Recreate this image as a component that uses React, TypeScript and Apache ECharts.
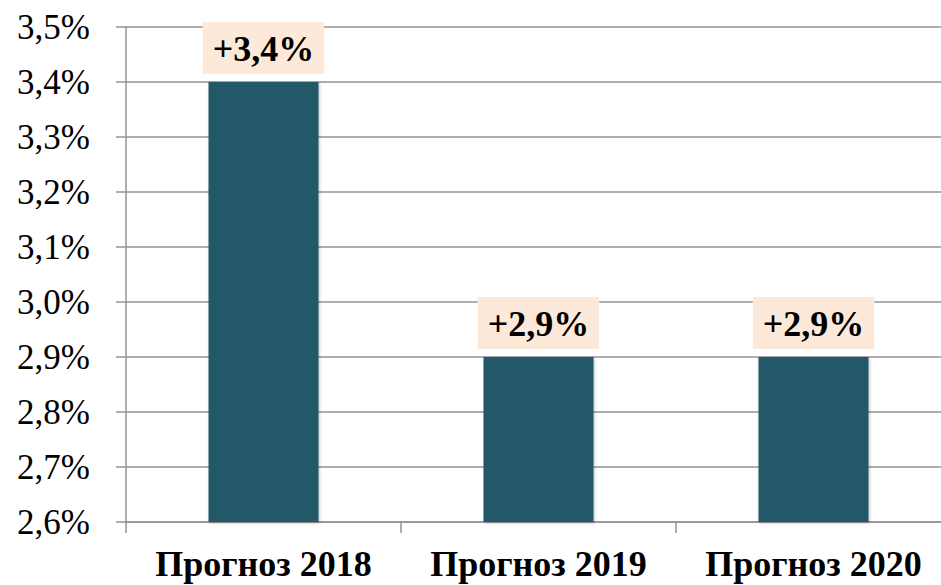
import React, { useEffect, useRef } from "react";
import * as echarts from "echarts";

const categories = ["Прогноз 2018", "Прогноз 2019", "Прогноз 2020"];
const values = [3.4, 2.9, 2.9];
const yMin = 2.6;
const yMax = 3.5;
const yInterval = 0.1;

const FONT = "Liberation Serif";
const GRID_COLOR = "#939393";

export default function App() {
  const ref = useRef<HTMLDivElement>(null);
  useEffect(() => {
    if (!ref.current) return;
    const chart = echarts.init(ref.current, undefined, { renderer: "svg" });
    chart.setOption({
      animation: false,
      backgroundColor: "#ffffff",
      textStyle: { fontFamily: FONT },
      grid: {
        left: 126,
        width: 825,
        top: 27,
        bottom: 63,
        containLabel: false,
        outerBoundsMode: "none",
      },
      xAxis: {
        type: "category",
        data: categories,
        axisLine: { show: true, lineStyle: { color: GRID_COLOR, width: 1.5 } },
        axisTick: { show: true, length: 11, alignWithLabel: false, lineStyle: { color: GRID_COLOR, width: 1.5 } },
        axisLabel: {
          interval: 0,
          hideOverlap: false,
          color: "#000",
          fontFamily: FONT,
          fontWeight: "bold",
          fontSize: 36,
          margin: 24,
        },
      },
      yAxis: {
        type: "value",
        min: yMin,
        max: yMax,
        interval: yInterval,
        axisLine: { show: true, lineStyle: { color: GRID_COLOR, width: 1.5 } },
        axisTick: { show: true, length: 10, inside: false, lineStyle: { color: GRID_COLOR, width: 1.5 } },
        splitLine: { show: true, lineStyle: { color: GRID_COLOR, width: 1.5 } },
        axisLabel: {
          color: "#000",
          fontFamily: FONT,
          fontSize: 35,
          margin: 36,
          formatter: (v: number) => v.toFixed(1).replace(".", ",") + "%",
        },
      },
      series: [
        {
          type: "bar",
          data: values,
          barWidth: 110,
          itemStyle: {
            color: "#245968",
            shadowColor: "rgba(0,0,0,0.25)",
            shadowBlur: 3,
            shadowOffsetX: 1,
            shadowOffsetY: 1,
          },
          label: {
            show: true,
            position: "top",
            distance: 8,
            formatter: (p: any) => "+" + Number(p.value).toFixed(1).replace(".", ",") + "%",
            color: "#000",
            fontFamily: FONT,
            fontWeight: "bold",
            fontSize: 36,
            lineHeight: 36,
            backgroundColor: "#FDE9D9",
            padding: [9, 10, 7, 10],
          },
        },
      ],
    });
    return () => chart.dispose();
  }, []);
  return <div ref={ref} style={{ width: 941, height: 585, position: "absolute", left: 0, top: 0, overflow: "hidden" }} />;
}
